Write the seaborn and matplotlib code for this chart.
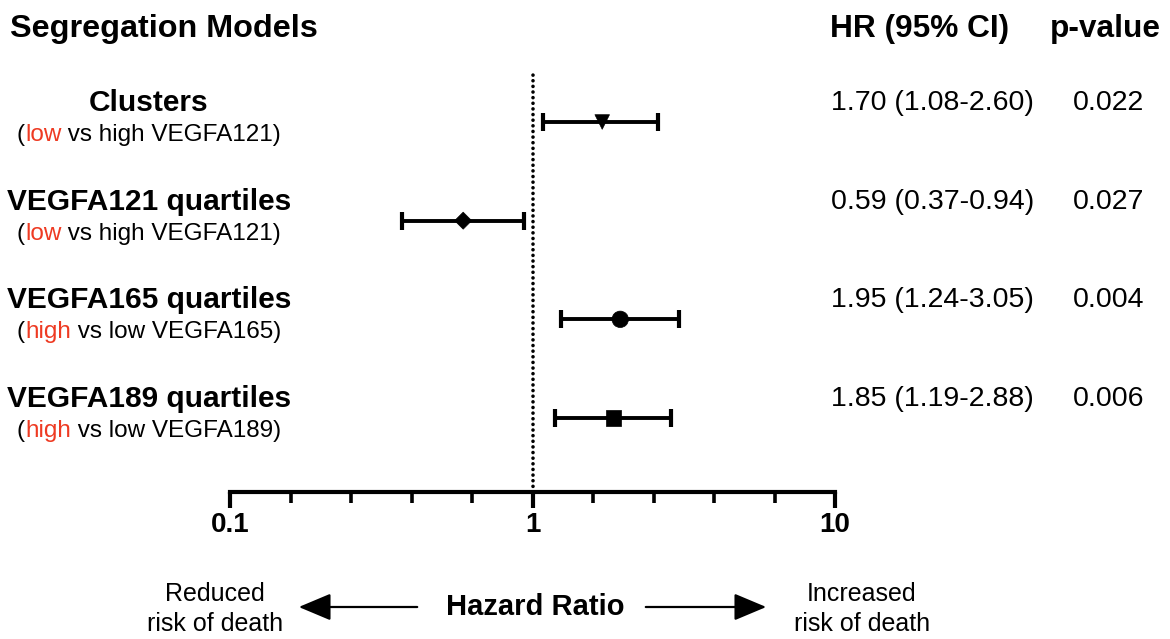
import numpy as np
import pandas as pd
import matplotlib
matplotlib.use("Agg")
import matplotlib.pyplot as plt
from matplotlib.ticker import FixedLocator, NullFormatter
import seaborn as sns

# ---- data -------------------------------------------------------------
models = ["Clusters", "VEGFA121 quartiles", "VEGFA165 quartiles", "VEGFA189 quartiles"]
comparisons = [
    [("(", "black"), ("low", "red"), (" vs high VEGFA121)", "black")],
    [("(", "black"), ("low", "red"), (" vs high VEGFA121)", "black")],
    [("(", "black"), ("high", "red"), (" vs low VEGFA165)", "black")],
    [("(", "black"), ("high", "red"), (" vs low VEGFA189)", "black")],
]
hr = [1.70, 0.59, 1.95, 1.85]
ci_low = [1.08, 0.37, 1.24, 1.19]
ci_high = [2.60, 0.94, 3.05, 2.88]
p_values = ["0.022", "0.027", "0.004", "0.006"]
marker_shapes = ["v", "D", "o", "s"]
tick_values = [0.1, 1, 10]
tick_labels = ["0.1", "1", "10"]

RED = "#ee3a22"
W, H = 1170, 639

df = pd.DataFrame({
    "model": models,
    "row": np.arange(len(models)),
    "hr": hr,
    "lo": ci_low,
    "hi": ci_high,
})

sns.set_style("white")
plt.rcParams["font.family"] = ["Liberation Sans", "DejaVu Sans"]
plt.rcParams["text.color"] = "black"
plt.rcParams["xtick.color"] = "black"
plt.rcParams["xtick.labelcolor"] = "black"

fig = plt.figure(figsize=(W / 100, H / 100), dpi=100)
ax = fig.add_axes([230 / W, (H - 492) / H, 605 / W, (492 - 70) / H])

# confidence intervals
ax.errorbar(df["hr"], df["row"],
            xerr=[df["hr"] - df["lo"], df["hi"] - df["hr"]],
            fmt="none", ecolor="black", elinewidth=2.8,
            capsize=6.8, capthick=3.0, zorder=2)

# point estimates
sns.scatterplot(data=df, x="hr", y="row", style="model", size="model",
                markers=dict(zip(models, marker_shapes)),
                sizes=dict(zip(models, [110, 75, 140, 120])),
                color="black", edgecolor="black", linewidth=0.5,
                legend=False, ax=ax, zorder=3)

# line of no effect
ax.axvline(1, color="black", lw=2.6, linestyle=(0, (0.01, 1.55)),
           dash_capstyle="round", zorder=1)

ax.set_xscale("log")
ax.set_xlim(0.1, 10)
ax.set_ylim(3.75, -0.527)
ax.set_xlabel("")
ax.set_ylabel("")
ax.set_yticks([])
for s in ["left", "top", "right"]:
    ax.spines[s].set_visible(False)
ax.spines["bottom"].set_linewidth(3)
ax.spines["bottom"].set_color("black")

ax.xaxis.set_major_locator(FixedLocator(tick_values))
ax.set_xticklabels(tick_labels, fontsize=20, fontweight="bold", color="black")
minor_exp = [-0.8, -0.6, -0.4, -0.2, 0.2, 0.4, 0.6, 0.8]
ax.xaxis.set_minor_locator(FixedLocator([10 ** e for e in minor_exp]))
ax.xaxis.set_minor_formatter(NullFormatter())
ax.tick_params(axis="x", which="major", direction="out", length=11.5,
               width=3, pad=3, bottom=True, color="black")
ax.tick_params(axis="x", which="minor", direction="out", length=8,
               width=2.6, bottom=True, color="black")

# ---- row labels -------------------------------------------------------
renderer = fig.canvas.get_renderer()
LABEL_X = 149
for i, name in enumerate(models):
    ax.annotate(name, xy=(LABEL_X, i), xycoords=("figure pixels", "data"),
                xytext=(0, 19), textcoords="offset pixels",
                ha="center", va="center", fontsize=21.5, fontweight="bold",
                color="black", annotation_clip=False)
    pieces = []
    for txt, col in comparisons[i]:
        t = ax.annotate(txt, xy=(0, i), xycoords=("figure pixels", "data"),
                        xytext=(0, -13), textcoords="offset pixels",
                        ha="left", va="center", fontsize=17.5,
                        color=RED if col == "red" else "black",
                        annotation_clip=False)
        pieces.append(t)
    widths = [t.get_window_extent(renderer).width for t in pieces]
    x = LABEL_X - sum(widths) / 2
    for t, w in zip(pieces, widths):
        t.xy = (x, i)
        x += w

    hr_text = f"{hr[i]:.2f} ({ci_low[i]:.2f}-{ci_high[i]:.2f})"
    ax.annotate(hr_text, xy=(831, i), xycoords=("figure pixels", "data"),
                xytext=(0, 19), textcoords="offset pixels",
                ha="left", va="center", fontsize=20.5, color="black",
                annotation_clip=False)
    ax.annotate(p_values[i], xy=(1073, i), xycoords=("figure pixels", "data"),
                xytext=(0, 19), textcoords="offset pixels",
                ha="left", va="center", fontsize=20.5, color="black",
                annotation_clip=False)

# ---- headers ----------------------------------------------------------
def fx(px):
    return px / W


def fy(py):
    return 1 - py / H


fig.text(fx(10), fy(29), "Segregation Models", fontsize=23.3,
         fontweight="bold", ha="left", va="center")
fig.text(fx(830), fy(29), "HR (95% CI)", fontsize=22.8,
         fontweight="bold", ha="left", va="center")
fig.text(fx(1050), fy(29), "p-value", fontsize=22.8,
         fontweight="bold", ha="left", va="center")

# ---- direction legend -------------------------------------------------
fig.text(fx(535), fy(607), "Hazard Ratio", fontsize=21, fontweight="bold",
         ha="center", va="center")
fig.text(fx(215), fy(609), "Reduced\nrisk of death", fontsize=18,
         ha="center", va="center", linespacing=1.3)
fig.text(fx(862), fy(609), "Increased\nrisk of death", fontsize=18,
         ha="center", va="center", linespacing=1.3)

arrow_style = "-|>,head_length=1.0,head_width=0.42"
fig.add_artist(matplotlib.patches.FancyArrowPatch(
    (fx(420), fy(607)), (fx(296), fy(607)), transform=fig.transFigure,
    arrowstyle=arrow_style, mutation_scale=20, lw=1.6, color="black"))
fig.add_artist(matplotlib.patches.FancyArrowPatch(
    (fx(643), fy(607)), (fx(769), fy(607)), transform=fig.transFigure,
    arrowstyle=arrow_style, mutation_scale=20, lw=1.6, color="black"))

fig.savefig("out.png", dpi=100)
